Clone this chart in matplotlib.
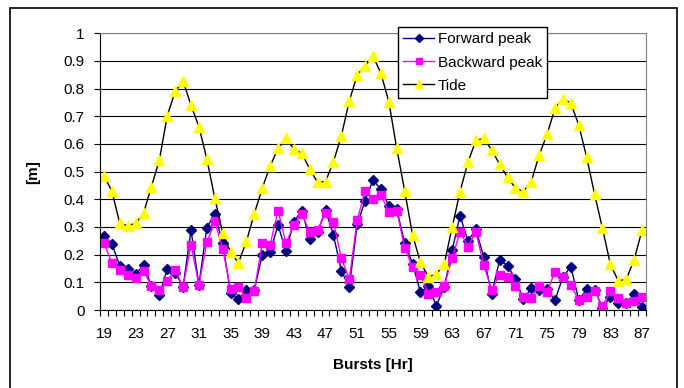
import matplotlib
matplotlib.use("Agg")
import matplotlib.pyplot as plt
import numpy as np
from matplotlib.patches import Rectangle

plt.rcParams["font.family"] = ["Liberation Sans", "DejaVu Sans"]

# burst number (hours) and peak / tide levels in metres
bursts = list(range(19, 88))

forward_peak = [
    0.266, 0.240, 0.159, 0.149, 0.131, 0.161, 0.088, 0.053, 0.149, 0.135,
    0.084, 0.289, 0.091, 0.298, 0.348, 0.242, 0.061, 0.040, 0.072, 0.072,
    0.199, 0.211, 0.307, 0.212, 0.319, 0.359, 0.258, 0.283, 0.361, 0.271,
    0.142, 0.082, 0.309, 0.395, 0.470, 0.436, 0.377, 0.364, 0.242, 0.168,
    0.064, 0.086, 0.015, 0.083, 0.216, 0.341, 0.249, 0.292, 0.191, 0.058,
    0.181, 0.160, 0.113, 0.038, 0.078, 0.074, 0.077, 0.035, 0.120, 0.157,
    0.036, 0.075, 0.073, 0.008, 0.048, 0.025, 0.027, 0.057, 0.012,
]

backward_peak = [
    0.243, 0.170, 0.144, 0.127, 0.114, 0.142, 0.088, 0.072, 0.104, 0.146,
    0.083, 0.236, 0.090, 0.244, 0.320, 0.221, 0.077, 0.084, 0.045, 0.070,
    0.241, 0.236, 0.359, 0.241, 0.307, 0.347, 0.283, 0.289, 0.349, 0.318,
    0.187, 0.111, 0.325, 0.430, 0.400, 0.417, 0.353, 0.359, 0.225, 0.155,
    0.128, 0.058, 0.065, 0.086, 0.187, 0.283, 0.229, 0.283, 0.163, 0.072,
    0.127, 0.118, 0.087, 0.048, 0.044, 0.087, 0.066, 0.139, 0.118, 0.090,
    0.036, 0.048, 0.070, 0.013, 0.070, 0.042, 0.027, 0.034, 0.048,
]

tide = [
    0.484, 0.430, 0.313, 0.305, 0.313, 0.350, 0.446, 0.542, 0.702, 0.790,
    0.828, 0.740, 0.663, 0.546, 0.405, 0.280, 0.208, 0.171, 0.248, 0.348,
    0.440, 0.520, 0.584, 0.620, 0.582, 0.566, 0.510, 0.461, 0.464, 0.536,
    0.629, 0.755, 0.849, 0.883, 0.918, 0.855, 0.753, 0.584, 0.431, 0.271,
    0.172, 0.120, 0.129, 0.166, 0.299, 0.428, 0.534, 0.613, 0.620, 0.578,
    0.527, 0.480, 0.440, 0.428, 0.464, 0.560, 0.635, 0.729, 0.764, 0.747,
    0.669, 0.552, 0.419, 0.295, 0.165, 0.105, 0.111, 0.181, 0.289,
]

x_labels = list(range(19, 88, 4))

fig = plt.figure(figsize=(6.84, 3.88), dpi=100)
ax = fig.add_axes([100 / 684, 1 - 310 / 388, 546 / 684, (310 - 33.3) / 388])

ax.plot(bursts, forward_peak, color="#000080", lw=1.0, marker="D", ms=4.8,
        mfc="#000080", mec="#000080", label="Forward peak")
ax.plot(bursts, backward_peak, color="#FF00FF", lw=1.0, marker="s", ms=5.2,
        mfc="#FF00FF", mec="#FF00FF", label="Backward peak")
ax.plot(bursts, tide, color="black", lw=1.0, marker="^", ms=6.8,
        mfc="#FFFF00", mec="#FFFF00", label="Tide")

ax.set_xlim(bursts[0] - 0.5, bursts[-1] + 0.5)
ax.set_ylim(0, 1)

ax.set_xticks(x_labels)
ax.set_xticks(np.arange(bursts[0] - 0.5, bursts[-1] + 1), minor=True)
ax.tick_params(axis="x", which="major", length=0, pad=12, labelsize=11)
ax.tick_params(axis="x", which="minor", length=4, width=0.8, direction="out")
ax.set_yticks(np.arange(0, 1.01, 0.1))
ax.set_yticklabels(["0", "0.1", "0.2", "0.3", "0.4", "0.5", "0.6", "0.7",
                    "0.8", "0.9", "1"])
ax.tick_params(axis="y", length=4, width=0.8, direction="out", pad=7,
               labelsize=11)

ax.set_axisbelow(True)
ax.yaxis.grid(True, color="black", lw=0.8)
for side in ("top", "right"):
    ax.spines[side].set_color("#808080")
for side in ("left", "bottom"):
    ax.spines[side].set_color("black")

ax.set_xlabel("Bursts [Hr]", fontsize=11, weight="bold")
ax.xaxis.set_label_coords(0.5, -(365 - 310) / 276.7)
ax.xaxis.label.set_va("center")
ax.set_ylabel("[m]", fontsize=11, weight="bold")
ax.yaxis.set_label_coords(-(100 - 33) / 546, 0.5)
ax.yaxis.label.set_va("center")

leg = ax.legend(loc="upper left", bbox_to_anchor=(398 / 684, 1 - 27 / 388),
                bbox_transform=fig.transFigure, fontsize=11, frameon=True,
                fancybox=False, framealpha=1, edgecolor="black",
                borderaxespad=0, borderpad=0.35, handlelength=2.0,
                handletextpad=0.25, labelspacing=0.6, markerscale=0.8)
leg.get_frame().set_linewidth(1.0)

# chart border, open at the bottom of the canvas
fig.patches.append(Rectangle((10 / 684, -0.1), 667 / 684, 1.1 - 8 / 388,
                             transform=fig.transFigure, fill=False,
                             edgecolor="black", lw=1.2))

fig.savefig("out.png", dpi=100)
